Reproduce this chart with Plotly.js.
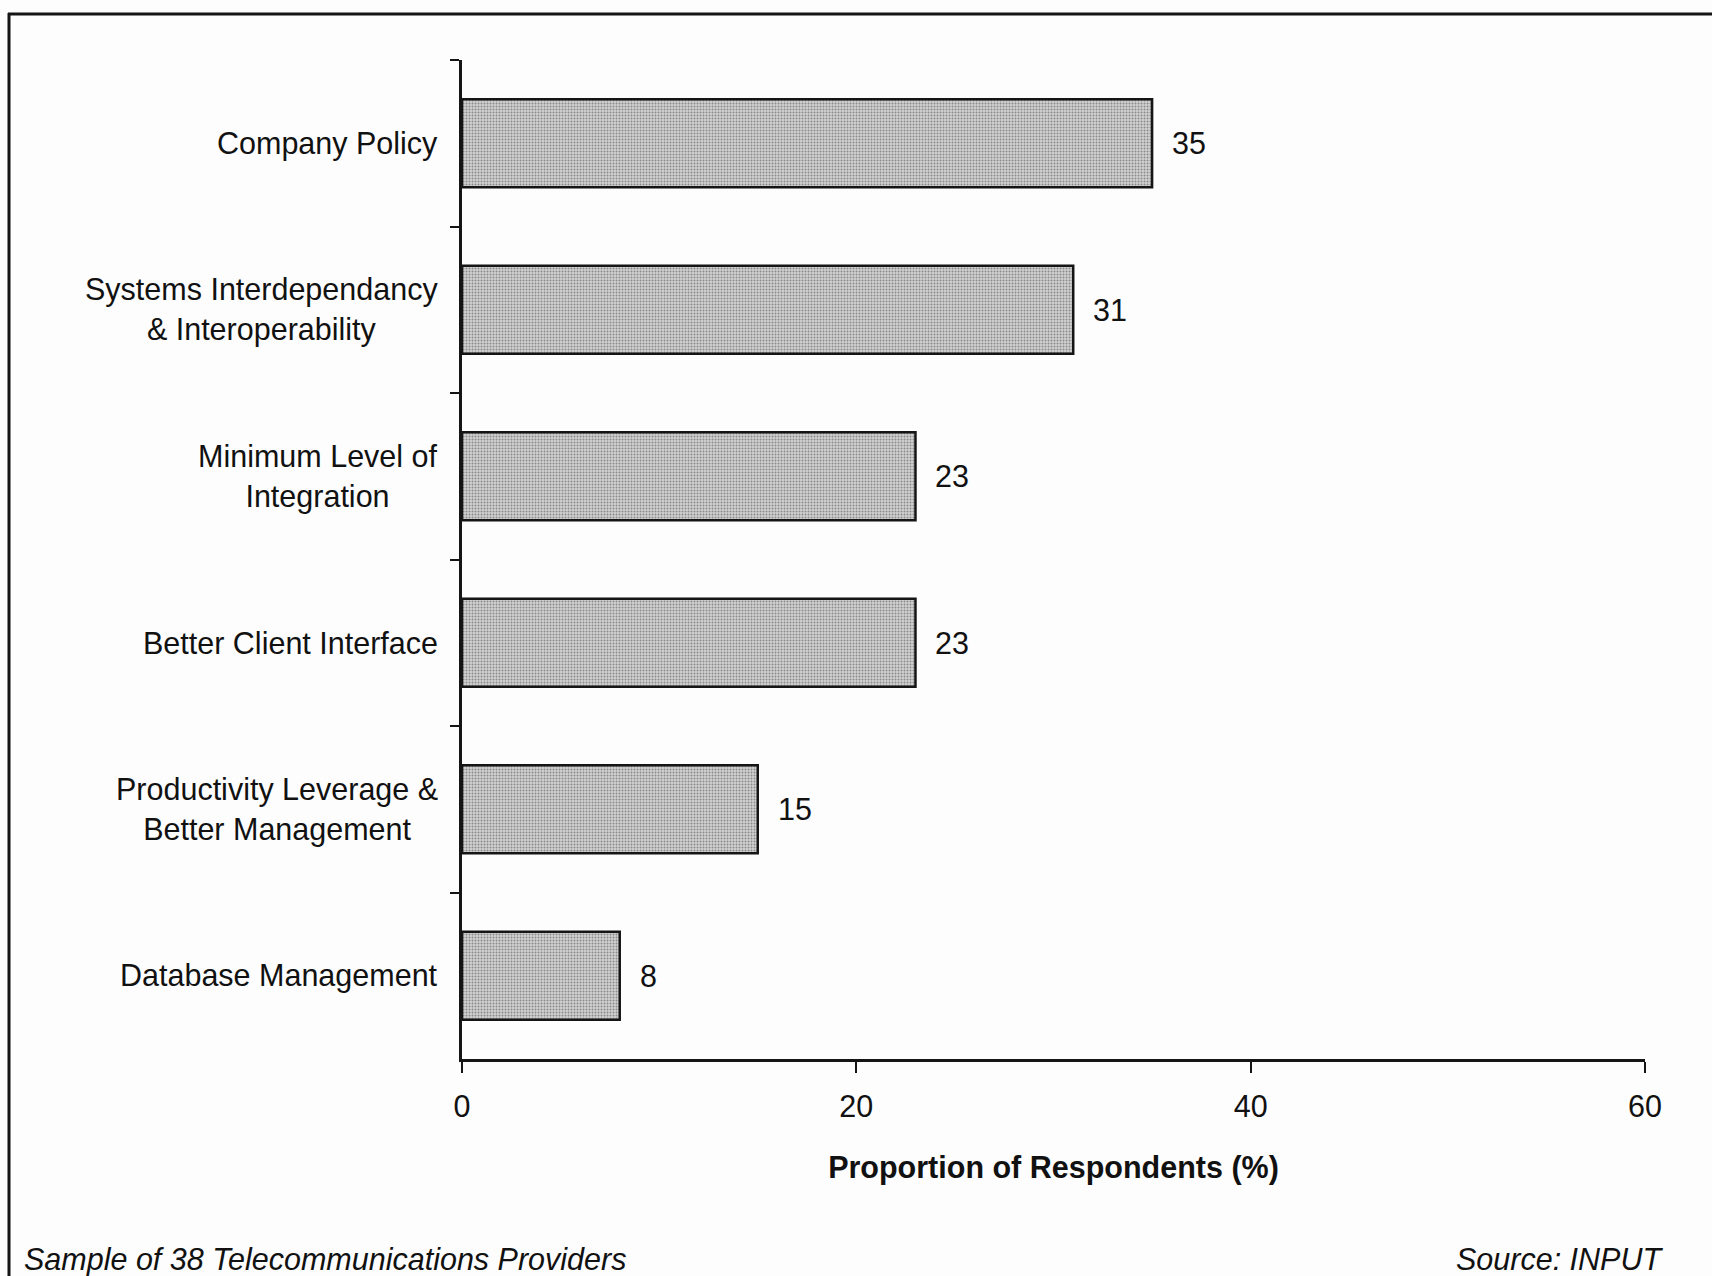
<!DOCTYPE html>
<html><head><meta charset="utf-8">
<script src="https://cdn.plot.ly/plotly-3.0.1.min.js"></script>
<style>html,body{margin:0;padding:0;background:#fdfdfd;} #chart{width:1712px;height:1276px;}</style>
</head><body><div id="chart"></div>
<script>
const categories = ["Company Policy", "Systems Interdependancy<br>& Interoperability", "Minimum Level of<br>Integration", "Better Client Interface", "Productivity Leverage &<br>Better Management", "Database Management"];
const values = [35, 31, 23, 23, 15, 8];
const xTickValues = [0, 20, 40, 60];
const xTickLabels = ["0", "20", "40", "60"];
const xTitle = "Proportion of Respondents (%)";
const footnoteLeft = "Sample of 38 Telecommunications Providers";
const footnoteRight = "Source: INPUT";

const FONT = "Liberation Sans, Arial, Helvetica, sans-serif";
const FS = 30.5;
const L = 462, R = 1645, T = 60, B = 1059;
const px = x => (x - L) / (R - L);
const py = y => (B - y) / (B - T);

const trace = {
  type: 'bar', orientation: 'h',
  x: values, y: categories,
  marker: {
    color: '#c4c4c4',
    line: {color: '#151515', width: 2.5},
    pattern: {shape: '.', fgcolor: '#8a8a8a', bgcolor: '#d2d2d2', size: 3, solidity: 0.35, fillmode: 'replace'}
  },
  hoverinfo: 'skip'
};

const annotations = [];
categories.forEach((c, i) => {
  annotations.push({xref: 'paper', yref: 'y', x: 0, y: c, text: c, xanchor: 'right', yanchor: 'middle',
    xshift: -22, align: 'center', showarrow: false, font: {family: FONT, size: FS, color: '#111'}});
  annotations.push({xref: 'x', yref: 'y', x: values[i], y: c, text: String(values[i]), xanchor: 'left', yanchor: 'middle',
    xshift: 18, showarrow: false, font: {family: FONT, size: FS, color: '#111'}});
});
annotations.push({xref: 'paper', yref: 'paper', x: px(22), y: py(1259), text: footnoteLeft, xanchor: 'left', yanchor: 'middle',
  showarrow: false, font: {family: FONT, size: FS, style: 'italic', color: '#111'}});
annotations.push({xref: 'paper', yref: 'paper', x: px(1665), y: py(1259), text: footnoteRight, xanchor: 'right', yanchor: 'middle',
  showarrow: false, font: {family: FONT, size: FS, style: 'italic', color: '#111'}});

const layout = {
  width: 1712, height: 1276,
  margin: {l: L, r: 1712 - R, t: T, b: 1276 - B},
  paper_bgcolor: '#fdfdfd', plot_bgcolor: '#fdfdfd',
  bargap: 0.47,
  showlegend: false,
  font: {family: FONT, size: FS, color: '#111'},
  xaxis: {
    range: [0, 60], tickvals: xTickValues, ticktext: xTickLabels,
    showgrid: false, zeroline: false, showline: true, linecolor: '#151515', linewidth: 3,
    ticks: 'outside', ticklen: 11, tickwidth: 2, tickcolor: '#151515',
    tickfont: {family: FONT, size: FS, color: '#111'}, ticklabelstandoff: 7,
    title: {text: xTitle, font: {family: FONT, size: FS, weight: 'bold', color: '#111'}, standoff: 36}
  },
  yaxis: {
    type: 'category', categoryorder: 'array', categoryarray: categories, range: [5.5, -0.5],
    showgrid: false, zeroline: false, showline: true, linecolor: '#151515', linewidth: 3,
    ticks: 'outside', tickson: 'boundaries', ticklen: 9, tickwidth: 2, tickcolor: '#151515',
    showticklabels: false
  },
  annotations: annotations,
  shapes: [
    {type: 'line', xref: 'paper', yref: 'paper', x0: px(8), x1: px(1712), y0: py(14), y1: py(14), line: {color: '#151515', width: 3}},
    {type: 'line', xref: 'paper', yref: 'paper', x0: px(9), x1: px(9), y0: py(13), y1: py(1276), line: {color: '#151515', width: 3}}
  ]
};

Plotly.newPlot('chart', [trace], layout, {staticPlot: true, displayModeBar: false});
</script>
</body></html>
